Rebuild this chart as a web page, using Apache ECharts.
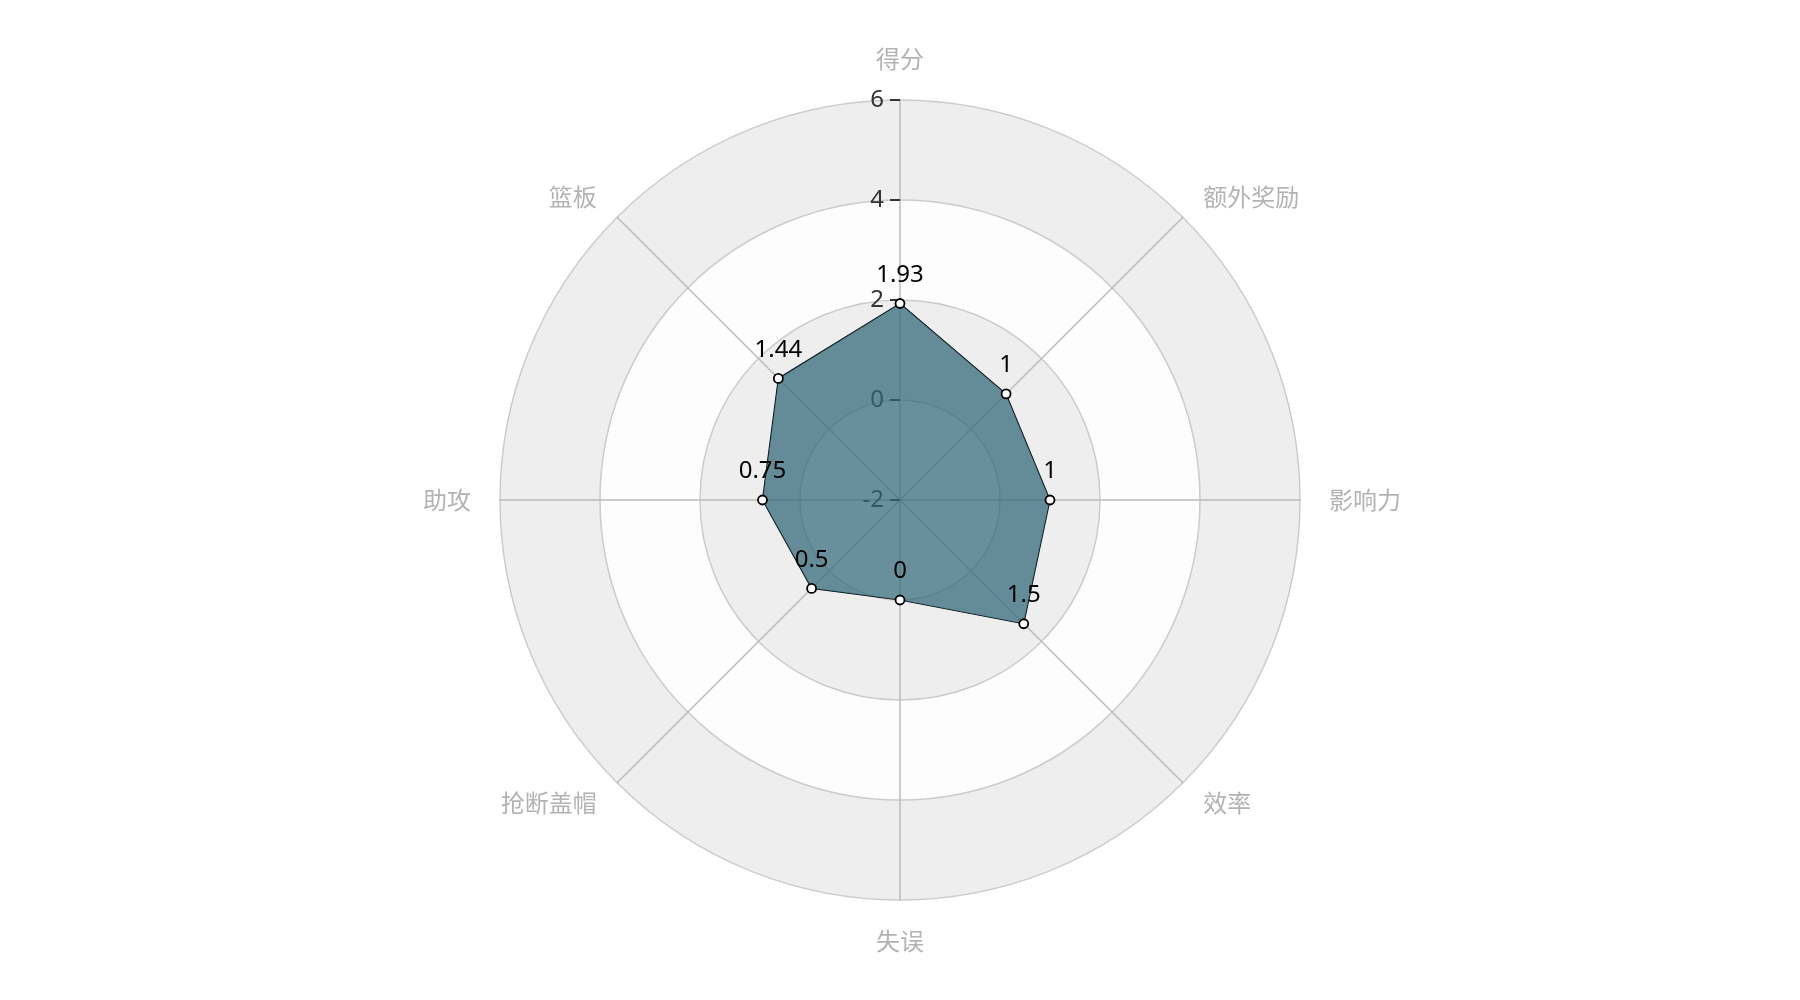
<!DOCTYPE html>
<html>
<head>
<meta charset="utf-8">
<script src="https://cdn.jsdelivr.net/npm/echarts@6/dist/echarts.min.js"></script>
<style>html,body{margin:0;padding:0;background:#fff}#c{width:1800px;height:1000px}</style>
</head>
<body>
<div id="c"></div>
<script>
const indicators = ['得分', '篮板', '助攻', '抢断盖帽', '失误', '效率', '影响力', '额外奖励'];
const values = [1.93, 1.44, 0.75, 0.5, 0, 1.5, 1, 1];
const axisMin = -2;
const axisMax = 6;

const chart = echarts.init(document.getElementById('c'));
chart.setOption({
  animation: false,
  radar: {
    center: ['50%', '50%'],
    radius: '80%',
    shape: 'circle',
    splitNumber: 4,
    startAngle: 90,
    indicator: indicators.map((n, i) => ({
      name: n, min: axisMin, max: axisMax,
      axisLabel: { show: i === 0 },
      axisTick: { show: i === 0 }
    })),
    axisName: { color: '#b3b3b3', fontSize: 24, fontFamily: 'Noto Sans CJK SC' },
    nameGap: 29,
    axisLine: { lineStyle: { color: '#bbb', width: 1.5 } },
    splitLine: { lineStyle: { color: '#ccc', width: 1.5 } },
    splitArea: { show: true, areaStyle: { color: ['rgba(250,250,250,0.3)', 'rgba(200,200,200,0.3)'] } },
    axisTick: { show: false, length: 10, lineStyle: { color: '#333', width: 2 } },
    axisLabel: { show: false, color: '#333', fontSize: 24, margin: 16, fontFamily: 'Noto Sans' }
  },
  series: [{
    type: 'radar',
    symbol: 'circle',
    symbolSize: 9,
    itemStyle: { color: '#fff', borderColor: '#000', borderWidth: 1.8 },
    lineStyle: { color: '#000', width: 1.2 },
    areaStyle: { color: 'rgb(50,104,121)', opacity: 0.73 },
    label: { show: true, color: '#000', fontSize: 24, fontFamily: 'Noto Sans', position: 'top', distance: 11 },
    data: [{ value: values }]
  }]
});
</script>
</body>
</html>
